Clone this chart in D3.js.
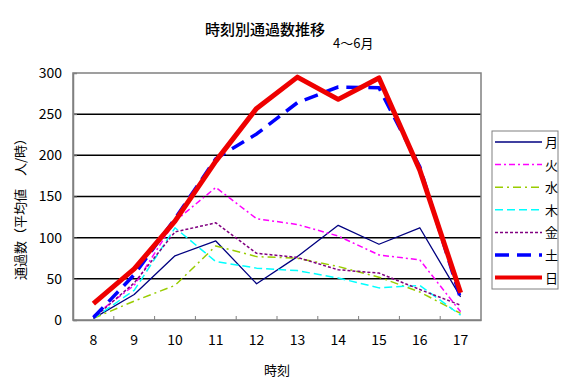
<!DOCTYPE html>
<html>
<head>
<meta charset="utf-8">
<script src="https://cdn.jsdelivr.net/npm/d3@7"></script>
<style>
  body { margin: 0; background: #fff; }
  text { font-family: "Noto Sans CJK JP", sans-serif; fill: #000; }
</style>
</head>
<body>
<div id="chart"></div>
<script>
  // hours on the x axis
  var hours = ["8", "9", "10", "11", "12", "13", "14", "15", "16", "17"];
  var yTicks = [0, 50, 100, 150, 200, 250, 300];

  // one array per weekday
  var mon = [2, 31, 78, 96, 44, 77, 115, 92, 112, 28];
  var tue = [5, 42, 120, 161, 123, 116, 102, 79, 73, 10];
  var wed = [2, 23, 42, 90, 77, 75, 65, 52, 34, 8];
  var thu = [2, 36, 112, 71, 63, 60, 51, 39, 42, 6];
  var fri = [2, 45, 107, 118, 81, 76, 61, 57, 37, 18];
  var sat = [3, 55, 123, 196, 226, 264, 283, 282, 186, 26];
  var sun = [20, 62, 120, 193, 257, 295, 268, 294, 182, 33];

  var seriesNames = ["月", "火", "水", "木", "金", "土", "日"];
  var seriesValues = [mon, tue, wed, thu, fri, sat, sun];
  var styles = [
    { color: "#000080", width: 1.3, dash: null },
    { color: "#ff00ff", width: 1.5, dash: "6,3,2,3" },
    { color: "#99cc00", width: 1.5, dash: "8,4,2,4" },
    { color: "#00ffff", width: 1.5, dash: "8,4" },
    { color: "#800080", width: 1.5, dash: "3,2" },
    { color: "#0000ff", width: 3.5, dash: "14,8" },
    { color: "#ee0000", width: 5, dash: null }
  ];

  var margin = { top: 73, left: 73, right: 86, bottom: 72 },
  width = 567 - margin.left - margin.right,
  height = 392 - margin.top - margin.bottom;

  var svg = d3.select("#chart")
    .append("svg")
    .attr("width", 567)
    .attr("height", 392);

  var g = svg.append("g")
    .attr("transform", "translate(" + margin.left + "," + margin.top + ")");

  var x = d3.scaleBand().domain(hours).range([0, width]).padding(0);
  var y = d3.scaleLinear().domain([0, 300]).range([height, 0]);

  // gridlines
  g.selectAll(".grid")
    .data(yTicks.filter(function (d) { return d > 0 && d < 300; }))
    .enter().append("line")
    .attr("x1", 0).attr("x2", width)
    .attr("y1", function (d) { return y(d); })
    .attr("y2", function (d) { return y(d); })
    .attr("stroke", "#000")
    .attr("stroke-width", 1.5);

  // frame
  g.append("rect")
    .attr("width", width).attr("height", height)
    .attr("fill", "none")
    .attr("stroke", "#808080")
    .attr("stroke-width", 1.5);

  // y axis
  var yAxis = g.append("g")
    .call(d3.axisLeft(y).tickValues(yTicks).tickSize(-4).tickPadding(11));
  yAxis.select(".domain").attr("stroke", "#808080").attr("stroke-width", 1.5);
  yAxis.selectAll(".tick line").attr("stroke", "#808080");
  yAxis.selectAll("text").style("font-size", "14px")
    .style("font-family", "'Noto Sans CJK JP', sans-serif");

  // x axis, ticks on the band edges
  var xAxis = g.append("g")
    .attr("transform", "translate(0," + height + ")")
    .call(d3.axisBottom(x).tickSize(0).tickPadding(15));
  xAxis.select(".domain").attr("stroke", "#808080").attr("stroke-width", 1.5);
  xAxis.selectAll("text").style("font-size", "14px")
    .style("font-family", "'Noto Sans CJK JP', sans-serif");
  g.selectAll(".xtick")
    .data(hours.slice(1))
    .enter().append("line")
    .attr("x1", function (d) { return x(d); })
    .attr("x2", function (d) { return x(d); })
    .attr("y1", height).attr("y2", height - 4)
    .attr("stroke", "#808080");

  // lines
  var line = d3.line()
    .x(function (d, i) { return x(hours[i]) + x.bandwidth() / 2; })
    .y(function (d) { return y(d); });

  seriesValues.forEach(function (vals, i) {
    g.append("path")
      .datum(vals)
      .attr("d", line)
      .attr("fill", "none")
      .attr("stroke", styles[i].color)
      .attr("stroke-width", styles[i].width)
      .attr("stroke-dasharray", styles[i].dash)
      .attr("stroke-linejoin", "round");
  });

  // titles
  svg.append("text")
    .attr("x", 265).attr("y", 35)
    .attr("text-anchor", "middle")
    .style("font-size", "15px")
    .style("font-weight", "500")
    .text("時刻別通過数推移");
  svg.append("text")
    .attr("x", 333).attr("y", 48)
    .style("font-size", "13px")
    .text("4〜6月");
  svg.append("text")
    .attr("x", 277).attr("y", 375)
    .attr("text-anchor", "middle")
    .style("font-size", "13px")
    .text("時刻");
  svg.append("text")
    .attr("transform", "translate(25,206) rotate(-90)")
    .attr("text-anchor", "middle")
    .style("font-size", "13px")
    .text("通過数（平均値　人/時）");

  // legend
  var legend = svg.append("g").attr("transform", "translate(492,131)");
  legend.append("rect")
    .attr("width", 66).attr("height", 158)
    .attr("fill", "#fff")
    .attr("stroke", "#808080");
  var item = legend.selectAll(".item")
    .data(seriesNames)
    .enter().append("g")
    .attr("transform", function (d, i) { return "translate(0," + (11 + i * 22.6) + ")"; });
  item.append("line")
    .attr("x1", 3).attr("x2", 50)
    .attr("stroke", function (d, i) { return styles[i].color; })
    .attr("stroke-width", function (d, i) { return Math.min(styles[i].width, 4); })
    .attr("stroke-dasharray", function (d, i) { return styles[i].dash; });
  item.append("text")
    .attr("x", 53).attr("y", 5)
    .style("font-size", "13px")
    .text(function (d) { return d; });
</script>
</body>
</html>
